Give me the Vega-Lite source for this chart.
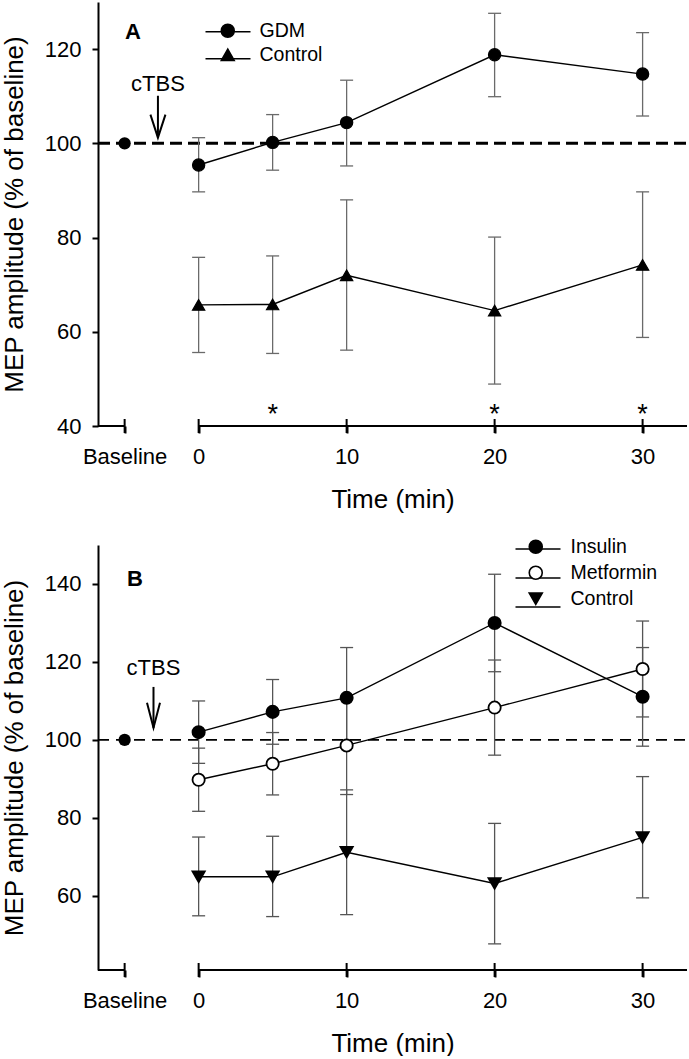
{
  "$schema": "https://vega.github.io/schema/vega-lite/v6.json",
  "background": "white",
  "padding": {"left": 1, "top": 2, "right": 0, "bottom": 0},
  "spacing": 13,
  "resolve": {"scale": {"shape": "independent", "fill": "independent", "stroke": "independent"}, "legend": {"shape": "independent", "fill": "independent", "stroke": "independent"}},
  "config": {
    "font": "Liberation Sans",
    "view": {"stroke": null},
    "axis": {
      "grid": false, "domainColor": "black", "tickColor": "black", "labelColor": "black",
      "titleColor": "black", "titleFontWeight": "normal", "labelFontSize": 22, "titleFontSize": 26,
      "domainWidth": 2, "tickWidth": 2, "labelFont": "Liberation Sans", "titleFont": "Liberation Sans"
    },
    "legend": {"labelFont": "Liberation Sans", "labelColor": "black"}
  },
  "datasets": {
    "errA": [
      {"group": "GDM", "time": 0, "value": 95.4, "lo": 89.7, "hi": 101.2},
      {"group": "GDM", "time": 5, "value": 100.2, "lo": 94.3, "hi": 106.1},
      {"group": "GDM", "time": 10, "value": 104.4, "lo": 95.2, "hi": 113.4},
      {"group": "GDM", "time": 20, "value": 118.8, "lo": 109.9, "hi": 127.6},
      {"group": "GDM", "time": 30, "value": 114.7, "lo": 105.8, "hi": 123.5},
      {"group": "Control", "time": 0, "value": 65.7, "lo": 55.6, "hi": 75.8},
      {"group": "Control", "time": 5, "value": 65.8, "lo": 55.4, "hi": 76.1},
      {"group": "Control", "time": 10, "value": 72.0, "lo": 56.1, "hi": 88.0},
      {"group": "Control", "time": 20, "value": 64.5, "lo": 48.9, "hi": 80.1},
      {"group": "Control", "time": 30, "value": 74.2, "lo": 58.8, "hi": 89.7}
    ],
    "errB": [
      {"group": "Insulin", "time": 0, "value": 102.0, "lo": 94.0, "hi": 110.0},
      {"group": "Insulin", "time": 5, "value": 107.2, "lo": 98.9, "hi": 115.5},
      {"group": "Insulin", "time": 10, "value": 110.8, "lo": 97.9, "hi": 123.7},
      {"group": "Insulin", "time": 20, "value": 130.0, "lo": 117.5, "hi": 142.5},
      {"group": "Insulin", "time": 30, "value": 111.1, "lo": 98.4, "hi": 123.7},
      {"group": "Metformin", "time": 0, "value": 89.8, "lo": 81.7, "hi": 97.9},
      {"group": "Metformin", "time": 5, "value": 93.9, "lo": 85.9, "hi": 101.9},
      {"group": "Metformin", "time": 10, "value": 98.6, "lo": 86.0, "hi": 111.2},
      {"group": "Metformin", "time": 20, "value": 108.3, "lo": 96.1, "hi": 120.5},
      {"group": "Metformin", "time": 30, "value": 118.2, "lo": 105.9, "hi": 130.5},
      {"group": "Control", "time": 0, "value": 64.9, "lo": 54.9, "hi": 75.1},
      {"group": "Control", "time": 5, "value": 64.9, "lo": 54.7, "hi": 75.3},
      {"group": "Control", "time": 10, "value": 71.2, "lo": 55.2, "hi": 87.2},
      {"group": "Control", "time": 20, "value": 63.2, "lo": 47.7, "hi": 78.6},
      {"group": "Control", "time": 30, "value": 75.0, "lo": 59.5, "hi": 90.6}
    ]
  },
  "vconcat": [
    {
      "width": 589,
      "height": 424,
      "encoding": {
        "x": {"field": "time", "type": "quantitative",
          "scale": {"domain": [-6.8, 33], "nice": false, "zero": false},
          "axis": {"values": [-5, 0, 10, 20, 30], "labelExpr": "datum.value === -5 ? 'Baseline' : datum.label",
            "domain": false, "tickSize": 7, "labelPadding": 13, "labelFlush": false, "labelOverlap": false,
            "title": "Time (min)", "titlePadding": 19}},
        "y": {"field": "value", "type": "quantitative",
          "scale": {"domain": [40, 130], "nice": false, "zero": false},
          "axis": {"values": [40, 60, 80, 100, 120], "tickSize": 6, "labelPadding": 11,
            "title": "MEP amplitude (% of baseline)", "titlePadding": 17}}
      },
      "layer": [
        {"data": {"values": [{"time": -6.8, "time2": 33, "value": 100}]},
          "mark": {"type": "rule", "color": "black", "strokeWidth": 3, "strokeDash": [12, 6]},
          "encoding": {"x2": {"field": "time2"}}},
        {"data": {"values": [{"time": -6.8, "time2": -5, "value": 40}, {"time": 0, "time2": 33, "value": 40}]},
          "mark": {"type": "rule", "color": "black", "strokeWidth": 2},
          "encoding": {"x2": {"field": "time2"}}},
        {"data": {"values": [{"time": -5, "value": 40}, {"time": 0, "value": 40}, {"time": 10, "value": 40}, {"time": 20, "value": 40}, {"time": 30, "value": 40}]},
          "mark": {"type": "tick", "orient": "vertical", "color": "black", "size": 14, "thickness": 2, "opacity": 1}},
        {"data": {"name": "errA"},
          "mark": {"type": "rule", "color": "#6a6a6a", "strokeWidth": 1.3},
          "encoding": {"y": {"field": "lo", "type": "quantitative"}, "y2": {"field": "hi"}}},
        {"data": {"name": "errA"},
          "mark": {"type": "tick", "orient": "horizontal", "color": "#6a6a6a", "size": 13, "thickness": 1.3, "opacity": 1},
          "encoding": {"y": {"field": "lo", "type": "quantitative"}}},
        {"data": {"name": "errA"},
          "mark": {"type": "tick", "orient": "horizontal", "color": "#6a6a6a", "size": 13, "thickness": 1.3, "opacity": 1},
          "encoding": {"y": {"field": "hi", "type": "quantitative"}}},
        {"data": {"name": "errA"},
          "mark": {"type": "line", "strokeWidth": 1.4},
          "encoding": {"stroke": {"field": "group", "type": "nominal",
            "scale": {"domain": ["Control", "GDM"], "range": ["black", "black"]},
            "legend": {"orient": "none", "legendX": 106.5, "legendY": 6.2, "title": null, "padding": 0,
              "symbolType": "stroke", "symbolSize": 2025, "symbolStrokeWidth": 1.5, "symbolStrokeColor": "black", "symbolOpacity": 1,
              "labelFontSize": 1, "labelExpr": "''", "labelOffset": 0, "rowPadding": 0}}}},
        {"data": {"name": "errA"},
          "mark": {"type": "point", "filled": true, "stroke": "black", "strokeWidth": 1.2, "size": 150, "opacity": 1},
          "encoding": {
            "shape": {"field": "group", "type": "nominal",
              "scale": {"domain": ["GDM", "Control"], "range": ["circle", "triangle-up"]},
              "legend": {"orient": "none", "legendX": 120, "legendY": 19, "title": null, "padding": 0,
                "symbolSize": 169, "symbolStrokeWidth": 1.5, "symbolStrokeColor": "black", "symbolFillColor": "black", "symbolOpacity": 1,
                "labelFontSize": 19.5, "labelOffset": 22, "rowPadding": 3}},
            "fill": {"field": "group", "type": "nominal",
              "scale": {"domain": ["GDM", "Control"], "range": ["black", "black"]}, "legend": null}
          }},
        {"data": {"values": [{"time": -5, "value": 100}]},
          "mark": {"type": "point", "shape": "circle", "filled": true, "color": "black", "size": 150, "opacity": 1}},
        {"data": {"values": [{"time": -2.75, "value": 110.1, "tip": 101.2}]},
          "mark": {"type": "rule", "color": "black", "strokeWidth": 2},
          "encoding": {"y2": {"field": "tip"}}},
        {"data": {"values": [{"time": -2.75, "value": 101.2}]},
          "mark": {"type": "point", "shape": "M-0.75,-2.3L0,0L0.75,-2.3", "filled": false, "stroke": "black", "strokeWidth": 2, "size": 400, "opacity": 1}},
        {"data": {"values": [{"time": -2.75, "value": 112.6, "label": "cTBS"}]},
          "mark": {"type": "text", "fontSize": 22, "baseline": "middle", "align": "center", "color": "black"},
          "encoding": {"text": {"field": "label"}}},
        {"data": {"values": [{"time": 5, "value": 44, "label": "*"}, {"time": 20, "value": 44, "label": "*"}, {"time": 30, "value": 44, "label": "*"}]},
          "mark": {"type": "text", "fontSize": 27, "baseline": "alphabetic", "dy": 15.5, "align": "center", "color": "black"},
          "encoding": {"text": {"field": "label"}}},
        {"data": {"values": [{"time": -4.44, "value": 123.6, "label": "A"}]},
          "mark": {"type": "text", "fontSize": 22, "fontWeight": "bold", "baseline": "middle", "align": "center", "color": "black"},
          "encoding": {"text": {"field": "label"}}}
      ]
    },
    {
      "width": 589,
      "height": 425,
      "encoding": {
        "x": {"field": "time", "type": "quantitative",
          "scale": {"domain": [-6.8, 33], "nice": false, "zero": false},
          "axis": {"values": [-5, 0, 10, 20, 30], "labelExpr": "datum.value === -5 ? 'Baseline' : datum.label",
            "domain": false, "tickSize": 7, "labelPadding": 13, "labelFlush": false, "labelOverlap": false,
            "title": "Time (min)", "titlePadding": 19}},
        "y": {"field": "value", "type": "quantitative",
          "scale": {"domain": [41, 150], "nice": false, "zero": false},
          "axis": {"values": [60, 80, 100, 120, 140], "tickSize": 6, "labelPadding": 11,
            "title": "MEP amplitude (% of baseline)", "titlePadding": 17}}
      },
      "layer": [
        {"data": {"values": [{"time": -6.8, "time2": 33, "value": 100}]},
          "mark": {"type": "rule", "color": "black", "strokeWidth": 1.8, "strokeDash": [11, 7]},
          "encoding": {"x2": {"field": "time2"}}},
        {"data": {"values": [{"time": -6.8, "time2": -5, "value": 41}, {"time": 0, "time2": 33, "value": 41}]},
          "mark": {"type": "rule", "color": "black", "strokeWidth": 2},
          "encoding": {"x2": {"field": "time2"}}},
        {"data": {"values": [{"time": -5, "value": 41}, {"time": 0, "value": 41}, {"time": 10, "value": 41}, {"time": 20, "value": 41}, {"time": 30, "value": 41}]},
          "mark": {"type": "tick", "orient": "vertical", "color": "black", "size": 14, "thickness": 2, "opacity": 1}},
        {"data": {"name": "errB"},
          "mark": {"type": "rule", "color": "#555555", "strokeWidth": 1.3},
          "encoding": {"y": {"field": "lo", "type": "quantitative"}, "y2": {"field": "hi"}}},
        {"data": {"name": "errB"},
          "mark": {"type": "tick", "orient": "horizontal", "color": "#555555", "size": 13, "thickness": 1.3, "opacity": 1},
          "encoding": {"y": {"field": "lo", "type": "quantitative"}}},
        {"data": {"name": "errB"},
          "mark": {"type": "tick", "orient": "horizontal", "color": "#555555", "size": 13, "thickness": 1.3, "opacity": 1},
          "encoding": {"y": {"field": "hi", "type": "quantitative"}}},
        {"data": {"name": "errB"},
          "mark": {"type": "line", "strokeWidth": 1.4},
          "encoding": {"stroke": {"field": "group", "type": "nominal",
            "scale": {"domain": ["Control", "Insulin", "Metformin"], "range": ["black", "black", "black"]},
            "legend": {"orient": "none", "legendX": 416.5, "legendY": -19.5, "title": null, "padding": 0,
              "symbolType": "stroke", "symbolSize": 2025, "symbolStrokeWidth": 1.5, "symbolStrokeColor": "black", "symbolOpacity": 1,
              "labelFontSize": 1, "labelExpr": "''", "labelOffset": 0, "rowPadding": 2}}}},
        {"data": {"name": "errB"},
          "mark": {"type": "point", "filled": true, "stroke": "black", "strokeWidth": 1.8, "size": 150, "opacity": 1},
          "encoding": {
            "shape": {"field": "group", "type": "nominal",
              "scale": {"domain": ["Insulin", "Metformin", "Control"], "range": ["circle", "circle", "triangle-down"]},
              "legend": {"orient": "none", "legendX": 428, "legendY": -8, "title": null, "padding": 0,
                "symbolSize": 169, "symbolStrokeWidth": 1.6, "symbolStrokeColor": "black", "symbolFillColor": "black", "symbolOpacity": 1,
                "labelFontSize": 19.5, "labelOffset": 25, "rowPadding": 5}},
            "fill": {"field": "group", "type": "nominal",
              "scale": {"domain": ["Insulin", "Metformin", "Control"], "range": ["black", "white", "black"]}, "legend": null}
          }},
        {"data": {"values": [{"time": -5, "value": 100}]},
          "mark": {"type": "point", "shape": "circle", "filled": true, "color": "black", "size": 150, "opacity": 1}},
        {"data": {"values": [{"time": -3.05, "value": 113.6, "tip": 103.1}]},
          "mark": {"type": "rule", "color": "black", "strokeWidth": 2},
          "encoding": {"y2": {"field": "tip"}}},
        {"data": {"values": [{"time": -3.05, "value": 103.1}]},
          "mark": {"type": "point", "shape": "M-0.65,-2.5L0,0L0.65,-2.5", "filled": false, "stroke": "black", "strokeWidth": 2, "size": 400, "opacity": 1}},
        {"data": {"values": [{"time": -3.05, "value": 118.4, "label": "cTBS"}]},
          "mark": {"type": "text", "fontSize": 22, "baseline": "middle", "align": "center", "color": "black"},
          "encoding": {"text": {"field": "label"}}},
        {"data": {"values": [{"time": -4.3, "value": 141.4, "label": "B"}]},
          "mark": {"type": "text", "fontSize": 22, "fontWeight": "bold", "baseline": "middle", "align": "center", "color": "black"},
          "encoding": {"text": {"field": "label"}}}
      ]
    }
  ]
}
